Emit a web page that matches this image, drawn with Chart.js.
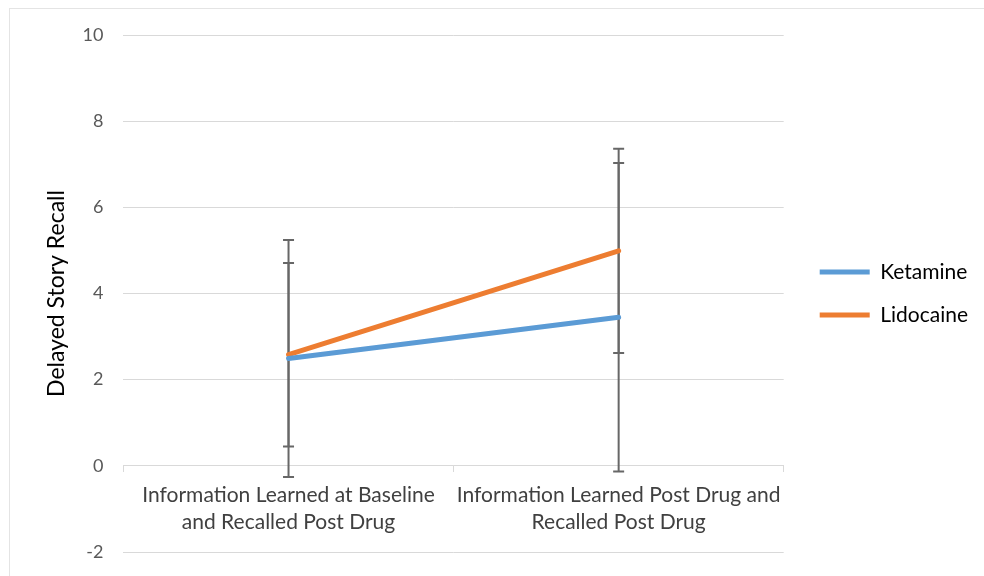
<!DOCTYPE html>
<html>
<head>
<meta charset="utf-8">
<script src="https://cdn.jsdelivr.net/npm/chart.js@4/dist/chart.umd.min.js"></script>
<style>
  body { margin: 0; background: #fff; }
  #wrap { position: relative; width: 984px; height: 576px; }
  #frame { position: absolute; left: 9px; top: 8px; right: 0; bottom: 0;
           border-top: 1px solid #e4e4e4; border-left: 1px solid #e4e4e4; pointer-events: none; }
</style>
</head>
<body>
<div id="wrap">
  <canvas id="chart" width="984" height="576"></canvas>
  <div id="frame"></div>
</div>
<script>
const categories = [
  ['Information Learned at Baseline', 'and Recalled Post Drug'],
  ['Information Learned Post Drug and', 'Recalled Post Drug']
];
const ketamine = [2.49, 3.45];
const ketamineErr = [2.75, 3.58];
const lidocaine = [2.58, 4.99];
const lidocaineErr = [2.13, 2.37];

// error bars drawn through the y scale
const errorBars = {
  id: 'errorBars',
  beforeDatasetsDraw(chart) {
    const { ctx, scales: { x, y } } = chart;
    ctx.save();
    ctx.strokeStyle = '#676767';
    ctx.lineWidth = 2;
    chart.data.datasets.forEach((ds) => {
      ds.errors.forEach((err, j) => {
        const px = x.getPixelForValue(j);
        const top = y.getPixelForValue(ds.data[j] + err);
        const bot = y.getPixelForValue(ds.data[j] - err);
        ctx.beginPath();
        ctx.moveTo(px, top);
        ctx.lineTo(px, bot);
        ctx.moveTo(px - 5.5, top);
        ctx.lineTo(px + 5.5, top);
        ctx.moveTo(px - 5.5, bot);
        ctx.lineTo(px + 5.5, bot);
        ctx.stroke();
      });
    });
    ctx.restore();
  }
};

new Chart(document.getElementById('chart').getContext('2d'), {
  type: 'line',
  data: {
    labels: categories,
    datasets: [
      {
        label: 'Ketamine',
        data: ketamine,
        errors: ketamineErr,
        borderColor: '#5B9BD5',
        backgroundColor: '#5B9BD5',
        borderWidth: 5,
        borderCapStyle: 'round',
        pointRadius: 0
      },
      {
        label: 'Lidocaine',
        data: lidocaine,
        errors: lidocaineErr,
        borderColor: '#ED7D31',
        backgroundColor: '#ED7D31',
        borderWidth: 5,
        borderCapStyle: 'round',
        pointRadius: 0
      }
    ]
  },
  options: {
    responsive: false,
    animation: false,
    layout: { padding: { left: 39, top: 35, right: 6, bottom: 24 } },
    scales: {
      x: {
        position: { y: 0 },
        offset: true,
        grid: {
          offset: true,
          drawOnChartArea: false,
          drawTicks: true,
          tickLength: 6,
          color: '#d9d9d9'
        },
        border: { color: '#d9d9d9', width: 1 },
        ticks: {
          color: '#404040',
          font: { family: 'Lato', size: 21, lineHeight: 1.33 },
          padding: 9,
          maxRotation: 0
        }
      },
      y: {
        min: -2,
        max: 10,
        ticks: {
          stepSize: 2,
          color: '#595959',
          font: { family: 'Lato', size: 18 },
          padding: 0
        },
        grid: { color: '#d9d9d9', drawTicks: true, tickLength: 20, tickColor: 'transparent' },
        border: { display: false },
        title: {
          display: true,
          text: 'Delayed Story Recall',
          color: '#000',
          font: { family: 'Lato', size: 23 },
          padding: { top: 4, bottom: 12 }
        }
      },
      // spacer between plot area and legend
      gap: {
        type: 'linear',
        position: 'right',
        grid: { display: false },
        border: { display: false },
        ticks: { display: false },
        afterFit(scale) { scale.width = 14; }
      }
    },
    plugins: {
      legend: {
        position: 'right',
        maxWidth: 220,
        labels: {
          usePointStyle: true,
          pointStyle: 'line',
          pointStyleWidth: 50,
          boxHeight: 5,
          padding: 22,
          color: '#000',
          font: { family: 'Lato', size: 21 }
        }
      },
      tooltip: { enabled: false }
    }
  },
  plugins: [errorBars]
});
</script>
</body>
</html>
